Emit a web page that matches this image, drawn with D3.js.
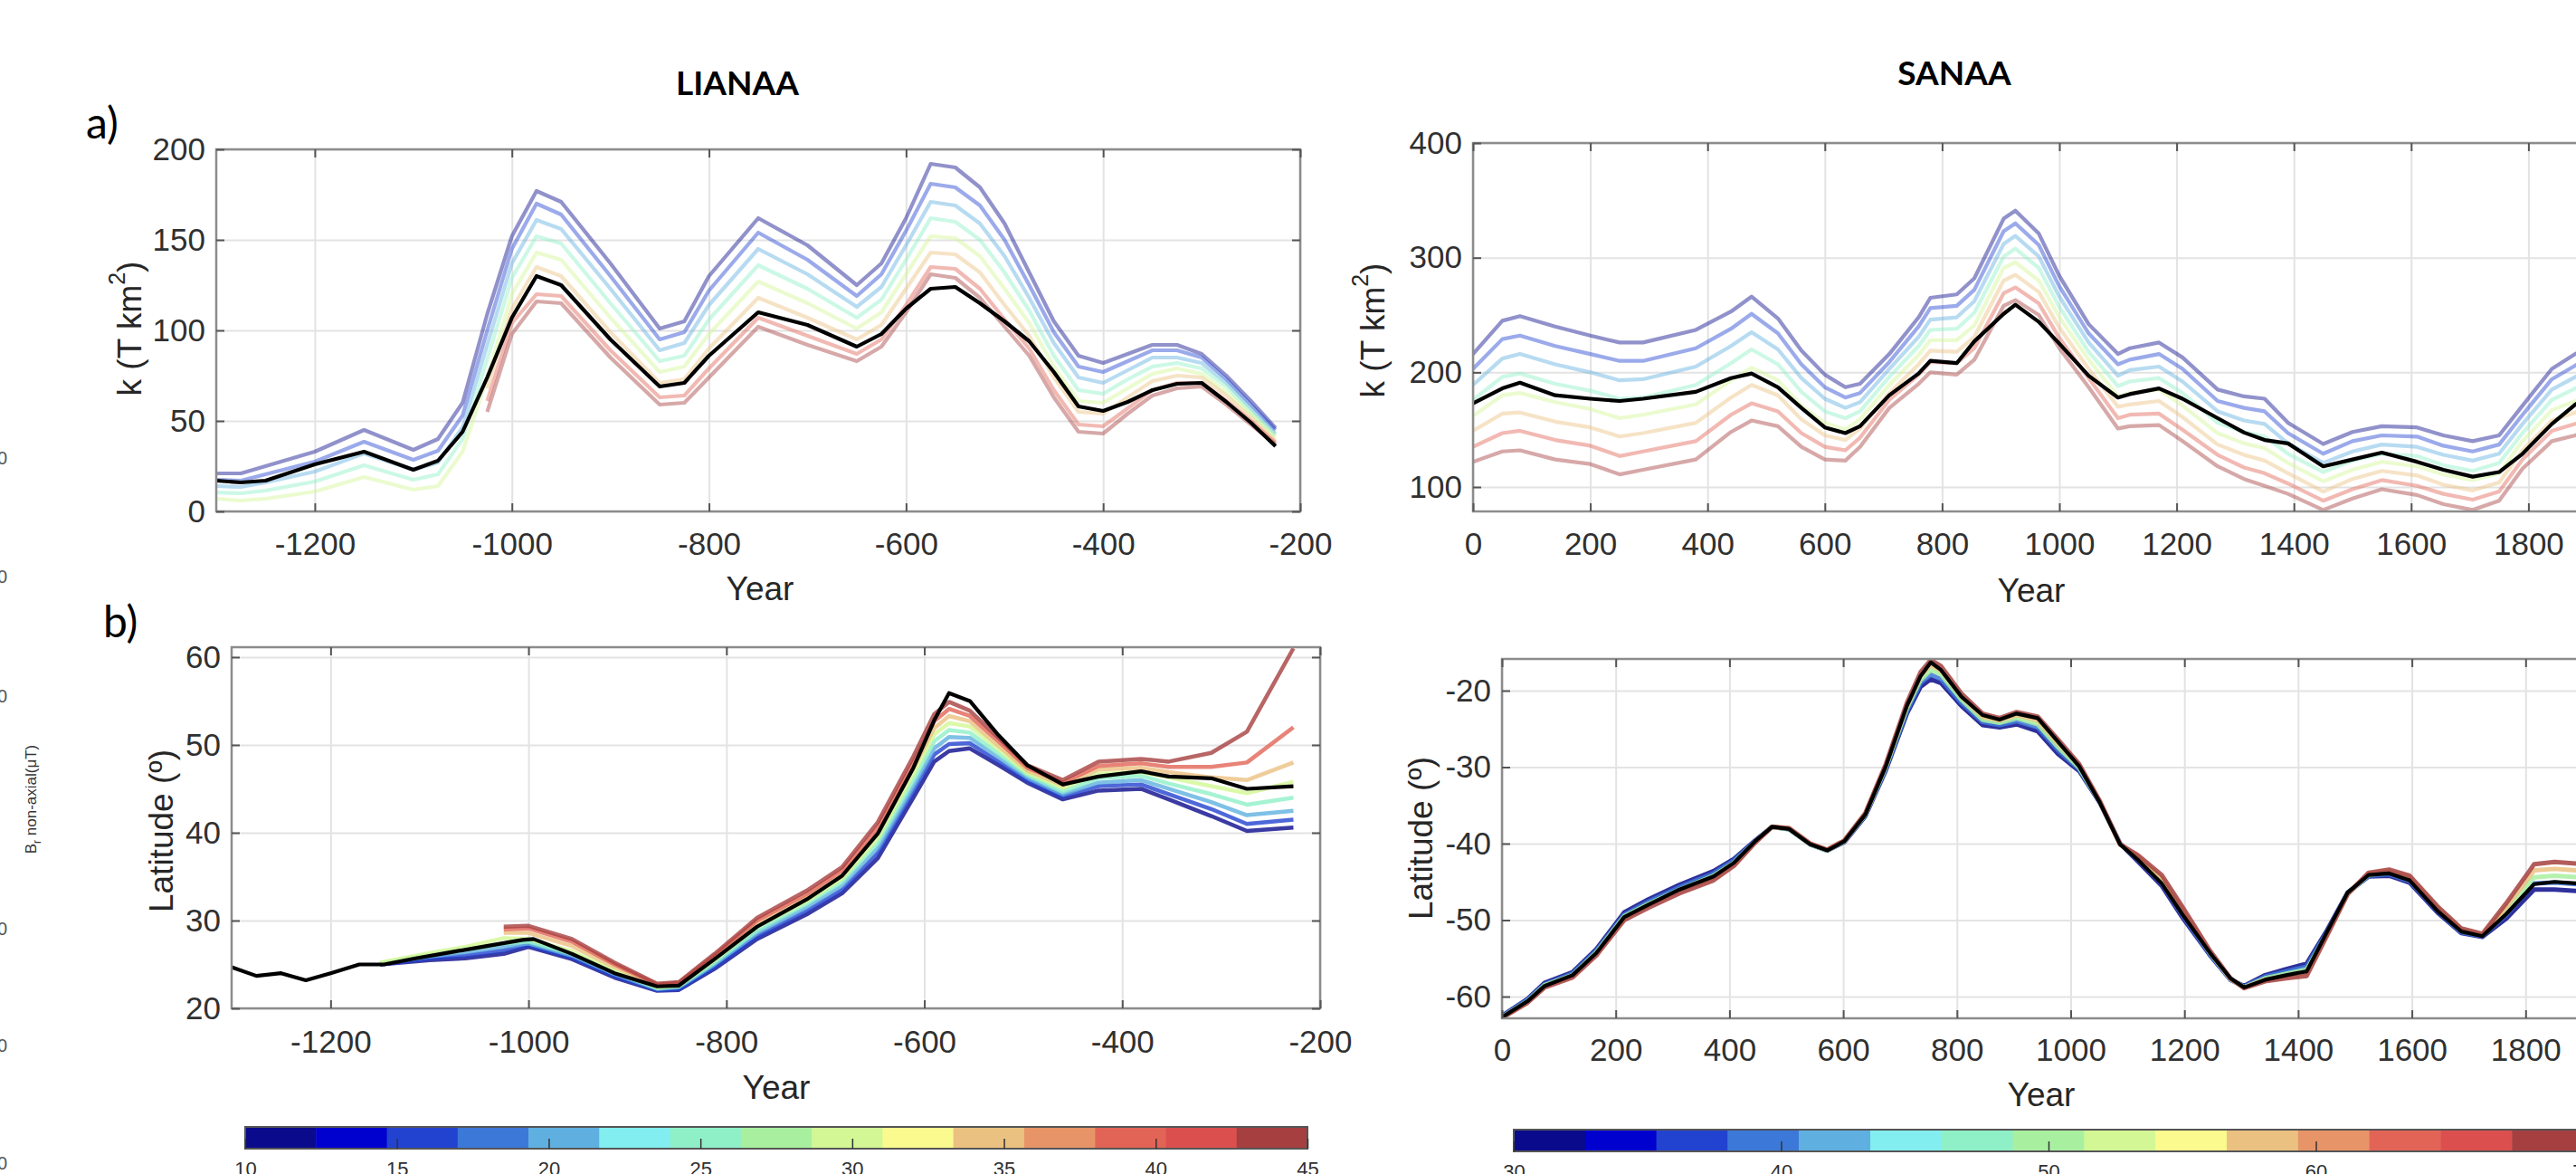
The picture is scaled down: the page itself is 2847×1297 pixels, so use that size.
<!DOCTYPE html>
<html lang="en">
<head>
<meta charset="UTF-8">
<title>LIANAA / SANAA</title>
<style>
  body { margin: 0; background: #fff; overflow: hidden; }
  svg { display: block; }
  .tick text { font-family: "Liberation Sans", Arial, sans-serif; fill: #303030; }
  .axis-label { font-family: "Liberation Sans", Arial, sans-serif; font-size: 37px; fill: #262626; }
  .title { font-family: Lato, "Open Sans", sans-serif; font-weight: 700; font-size: 37px; fill: #000; }
  .tag { font-family: Lato, "Open Sans", sans-serif; font-size: 48px; fill: #000; }
</style>
</head>
<body>
<div id="chart"></div>
<script src="https://d3js.org/d3.v7.min.js"></script>
<script>
// colour levels of the colour bars (blue -> dark red)
const levelColors = ['#0a0a8c','#0000cf','#2242d0','#3c78d8','#5fb0e0','#82eef0','#8ff0c8','#a8f0a0',
                     '#d2f794','#fafa8e','#ebc181','#e79468','#e26456','#dc4f4f','#a63f3f'];
const barTicksLeft = [10, 15, 20, 25, 30, 35, 40, 45];
const barTicksRight = [30, 40, 50, 60, 70];

// LIANAA, k (T km2)
const liKYears = [-1300,-1275,-1250,-1200,-1150,-1100,-1075,-1050,-1025,-1000,-975,-950,-900,-850,-825,-800,
  -750,-700,-650,-625,-600,-575,-550,-525,-500,-475,-450,-425,-400,-375,-350,-325,-300,-275,-250,-225];
const liKBlack = [17,16,17,26,33,23,28,44,74,107,130,125,95,69,71,86,110,103,91,98,112,123,124,115,105,94,
  77,58,55.5,60.5,67,70.5,71,60.5,49,36];
// one row per year, curves ordered blue -> red (levels 1,3,5,...,15)
const liKFan = [
  [21,17.5,14,10.5,7,null,null,null],
  [21,17,13.5,10,6,null,null,null],
  [25,20.5,16,11.5,7,null,null,null],
  [33,27.5,22,16.5,11,null,null,null],
  [45,38.5,32,25.5,19,null,null,null],
  [34,28.5,23,17.5,12,null,null,null],
  [40,33.5,27,20.5,14,null,null,null],
  [60,53,46.5,40,33,null,null,null],
  [109,100,92,84,74,68,61,55],
  [152,145,137,129,120,112,104,98],
  [177,170,161,152,143,135,120,116],
  [171,164,156,148,139,130,119,115],
  [137,130,123,115,107,99,89,85],
  [101,95,89,83,77,71,63,59],
  [105,99,93,86,80,73,64,60],
  [130,122,114,106,98,90,79,74],
  [162,154,145,136,127,118,107,102],
  [147,139,131,123,115,107,97,92],
  [125,119,113,107,101,95,87,83],
  [137,131,124,117,110,103,95,91],
  [162,155,147,139,131,123,114,110],
  [192,181,171,162,152,143,135,131],
  [190,179,169,160,151,142,134,129],
  [179,169,159,150,141,132,123,118],
  [159,150,141,132,123,114,106,102],
  [132,125,118,111,104,97,90,86],
  [105,99,93,86,80,74,67,63],
  [86,80,74,67,61,55,48,44],
  [82,77,71,65,60,54,47,43],
  [87,83,78,73,68,63,57,54],
  [92,89,85,80,76,72,67,64],
  [92,89,85,82,79,75,71,68],
  [87,85,82,79,76,74,71,69],
  [75,73,71,69,66,64,61,59],
  [61,59,57,55,54,52,50,48],
  [46,45,43,42,41,39,38,37]
];

// SANAA, k (T km2)
const saKYears = [0,50,80,140,200,250,290,380,440,475,520,560,600,635,660,710,760,780,825,855,905,925,965,
  1000,1050,1100,1120,1170,1210,1270,1315,1350,1390,1450,1500,1550,1610,1655,1705,1750,1790,1840,1880,1900];
const saKBlack = [173,186,191,180,177,175,177,183,195,199,187,169,152,147,153,180,199,210,208,227,251,259,244,
  225,197,178,181,186,177,160,147.5,141,138,118,124,130,122,115,109,113,129,155,172,178];
const saKFan = [
  [216,203,189,176,162,149,135,122],
  [245,229,212,196,180,164,147,131],
  [249,232,216,199,182,165,149,132],
  [240,223,207,190,174,157,141,124],
  [232,216,200,184,168,152,136,120],
  [226,210,193,177,160,144,127,111],
  [226,210,194,178,163,147,131,115],
  [237,221,205,189,172,156,140,124],
  [253,238,223,208,193,178,163,148],
  [266,251,235,220,204,189,173,158],
  [247,234,220,207,193,180,166,153],
  [219,207,195,183,171,159,147,135],
  [198,187,177,166,156,145,135,124],
  [187,178,169,160,150,141,132,123],
  [190,182,174,166,159,151,143,135],
  [216,209,203,196,189,182,176,169],
  [248,240,231,223,215,207,198,190],
  [265,256,246,237,228,219,209,200],
  [268,258,248,238,228,218,208,198],
  [282,272,262,252,241,231,221,211],
  [334,323,312,301,291,280,269,258],
  [341,330,319,308,296,285,274,263],
  [321,311,301,291,280,270,260,250],
  [284,275,266,257,248,239,230,221],
  [242,234,226,218,211,203,195,187],
  [216,207,197,188,179,170,160,151],
  [221,211,202,192,182,172,163,153],
  [226,216,205,195,185,175,164,154],
  [213,203,192,182,171,161,150,140],
  [185,175,166,156,147,137,128,118],
  [179,169,158,148,138,128,117,107],
  [177,166,155,144,134,123,112,101],
  [156,147,138,129,121,112,103,94],
  [137.5,129,121,113,105,96,88,80],
  [148,140,131,123,115,107,98,90],
  [153,145,137,129,122,114,106,98],
  [152,144,135,127,118,110,101,93],
  [145,136,128,119,111,102,94,85],
  [140,131,123,114,106,97,89,80],
  [145,137,129,121,112,104,96,88],
  [171,163,155,147,140,132,124,116],
  [203,194,185,176,167,158,149,140],
  [216,206,196,186,175,165,155,145],
  [222,212,201,191,181,171,160,150]
];

// LIANAA, latitude
const liLatBlackYears = [-1300,-1275,-1250,-1225,-1200,-1171,-1146,-1114,-1078,-1042,-1006,-995,-956,-913,-870,
  -848,-812,-769,-719,-683,-647,-611,-590,-575,-554,-525,-496,-460,-424,-381,-353,-310,-274,-227];
const liLatBlack = [24.7,23.7,24,23.2,24,25,25,25.7,26.4,27.1,27.8,27.9,26.2,24,22.5,22.6,25.6,29.3,32.4,35.1,
  39.9,47.4,52.8,55.9,55,51.1,47.7,45.5,46.4,47,46.4,46.2,45,45.3];
const liLatYears = [-1150,-1100,-1064,-1025,-1000,-956,-913,-870,-848,-812,-769,-719,-683,-647,-611,-590,-575,
  -554,-525,-496,-460,-424,-381,-353,-310,-274,-227];
const liLatFan = [
  [25.0,25.0,25.1,25.1,25.2,null,null,null],
  [25.5,25.7,25.9,26.1,26.3,null,null,null],
  [25.7,26.0,26.4,26.7,27.0,null,null,null],
  [26.2,26.6,27.0,27.4,28.0,28.6,29.0,29.3],
  [27.0,27.2,27.4,27.6,27.9,28.6,29.1,29.4],
  [25.6,25.8,26.0,26.2,26.5,27.1,27.6,27.9],
  [23.5,23.7,23.9,24.1,24.3,24.7,25.0,25.2],
  [22.0,22.1,22.2,22.3,22.4,22.6,22.7,22.8],
  [22.1,22.2,22.4,22.5,22.6,22.8,22.9,23.0],
  [24.5,24.7,25.0,25.2,25.5,25.7,26.0,26.2],
  [27.9,28.2,28.6,28.9,29.3,29.6,30.0,30.3],
  [30.7,31.1,31.5,31.9,32.2,32.6,33.0,33.4],
  [33.1,33.5,34.0,34.4,34.8,35.2,35.7,36.1],
  [37.1,37.7,38.3,38.9,39.4,40.0,40.6,41.2],
  [44.0,44.7,45.3,46.0,46.7,47.4,48.0,48.7],
  [48.1,48.9,49.6,50.4,51.2,51.9,52.7,53.5],
  [49.3,50.1,50.9,51.7,52.5,53.3,54.1,54.9],
  [49.6,50.2,50.8,51.4,52.1,52.7,53.3,53.9],
  [47.7,48.1,48.6,49.0,49.5,49.9,50.4,50.8],
  [45.7,46.0,46.3,46.6,46.8,47.1,47.4,47.7],
  [43.8,44.1,44.4,44.7,45.1,45.4,45.7,46.0],
  [44.8,45.3,45.7,46.2,46.7,47.2,47.6,48.1],
  [45.0,45.5,46.0,46.5,46.9,47.4,47.9,48.4],
  [43.8,44.4,45.0,45.6,46.3,46.9,47.5,48.1],
  [41.9,42.7,43.5,44.4,45.3,46.3,47.5,49.1],
  [40.2,41.0,42.0,43.2,44.5,46.0,48.0,51.5],
  [40.6,41.5,42.5,44.0,45.8,48.0,52.0,61.0]
];

// SANAA, latitude
const saLatYears = [0,45,75,124,166,215,257,312,372,408,445,475,505,542,572,602,639,675,712,736,754,772,808,845,
  875,905,942,978,1015,1051,1087,1118,1160,1196,1245,1281,1305,1342,1379,1415,1451,1487,1524,1560,1596,1645,
  1687,1724,1766,1815,1851,1890];
const saLatBlack = [-62.7,-60.6,-58.6,-57.2,-54.3,-49.6,-48,-46,-44.3,-42.5,-39.7,-37.8,-38.1,-40.1,-40.9,-39.7,
  -36.2,-29.9,-22,-18.1,-16.3,-17.3,-20.8,-23.2,-23.8,-23,-23.6,-26.7,-29.9,-34.6,-40.1,-42.1,-45.2,-49.2,-54.3,
  -57.6,-58.8,-57.8,-57.2,-56.7,-51.5,-46.4,-44.1,-43.9,-44.8,-48.8,-51.5,-52.1,-49.2,-45.3,-45.0,-45.2];
// curves at levels 1,4,8,11,15
const saLatFan = [
  [-62.5,-62.6,-62.7,-62.7,-62.8],[-60.3,-60.4,-60.6,-60.7,-60.8],[-58.2,-58.4,-58.5,-58.7,-58.8],
  [-56.8,-57.0,-57.2,-57.3,-57.5],[-53.8,-54.0,-54.2,-54.4,-54.6],[-49.0,-49.3,-49.5,-49.8,-50.0],
  [-47.3,-47.6,-47.9,-48.1,-48.4],[-45.4,-45.7,-46.0,-46.2,-46.5],[-43.6,-43.9,-44.2,-44.5,-44.8],
  [-42.0,-42.2,-42.5,-42.7,-42.9],[-39.6,-39.7,-39.8,-39.8,-39.9],[-37.8,-37.8,-37.8,-37.8,-37.8],
  [-38.1,-38.1,-38.1,-38.0,-38.0],[-40.1,-40.1,-40.1,-40.0,-40.0],[-40.9,-40.9,-40.9,-40.8,-40.8],
  [-39.8,-39.7,-39.7,-39.6,-39.6],[-36.4,-36.3,-36.2,-36.1,-36.0],[-30.4,-30.2,-30.0,-29.8,-29.6],
  [-23.0,-22.7,-22.3,-22.0,-21.6],[-19.5,-19.0,-18.6,-18.1,-17.6],[-18.5,-17.9,-17.3,-16.6,-16.0],
  [-19.0,-18.5,-17.9,-17.4,-16.8],[-22.0,-21.6,-21.2,-20.8,-20.4],[-24.5,-24.1,-23.8,-23.4,-23.0],
  [-24.8,-24.5,-24.2,-23.9,-23.6],[-24.4,-24.0,-23.6,-23.2,-22.8],[-25.3,-24.8,-24.4,-23.9,-23.4],
  [-28.3,-27.8,-27.4,-26.9,-26.4],[-30.5,-30.3,-30.1,-29.8,-29.6],[-34.6,-34.6,-34.5,-34.5,-34.4],
  [-40.0,-40.0,-40.1,-40.1,-40.1],[-42.3,-42.1,-41.9,-41.7,-41.5],[-45.5,-45.2,-44.8,-44.5,-44.1],
  [-49.6,-49.3,-48.9,-48.6,-48.2],[-54.6,-54.5,-54.3,-54.2,-54.0],[-57.8,-57.8,-57.7,-57.7,-57.6],
  [-58.6,-58.7,-58.8,-58.8,-58.9],[-57.2,-57.4,-57.6,-57.8,-58.0],[-56.4,-56.7,-57.0,-57.3,-57.6],
  [-55.7,-56.1,-56.5,-56.9,-57.3],[-51.3,-51.5,-51.7,-51.8,-52.0],[-46.4,-46.5,-46.5,-46.6,-46.6],
  [-44.3,-44.2,-44.1,-43.9,-43.8],[-44.2,-44.0,-43.8,-43.6,-43.4],[-45.1,-44.9,-44.7,-44.4,-44.2],
  [-49.0,-48.8,-48.6,-48.4,-48.2],[-51.7,-51.6,-51.4,-51.3,-51.1],[-52.2,-52.1,-52.0,-51.9,-51.8],
  [-49.8,-49.3,-48.8,-48.3,-47.8],[-46.0,-45.2,-44.4,-43.5,-42.7],[-46.0,-45.1,-44.2,-43.3,-42.4],
  [-46.2,-45.3,-44.4,-43.5,-42.6]
];

const width = 2847, height = 1297;
const svg = d3.select('#chart').append('svg')
  .attr('width', width).attr('height', height)
  .style('background', '#fff');

function drawPanel(p) {
  const x = d3.scaleLinear().domain(p.xDomain).range([p.left, p.right]);
  const y = d3.scaleLinear().domain(p.yDomain).range([p.bottom, p.top]);
  const w = p.right - p.left, h = p.bottom - p.top;

  svg.append('clipPath').attr('id', 'clip-' + p.id)
    .append('rect').attr('x', p.left).attr('y', p.top).attr('width', w).attr('height', h);

  const g = svg.append('g');

  // grid
  g.append('g').attr('transform', `translate(0,${p.bottom})`)
    .call(d3.axisBottom(x).tickValues(p.xTicks).tickSize(-h).tickFormat(''))
    .call(s => s.select('.domain').remove())
    .selectAll('line').attr('stroke', '#e3e3e3').attr('stroke-width', 2);
  g.append('g').attr('transform', `translate(${p.left},0)`)
    .call(d3.axisLeft(y).tickValues(p.yTicks).tickSize(-w).tickFormat(''))
    .call(s => s.select('.domain').remove())
    .selectAll('line').attr('stroke', '#e3e3e3').attr('stroke-width', 2);

  // curves
  const line = d3.line().defined(d => d[1] != null).x(d => x(d[0])).y(d => y(d[1]));
  const curves = g.append('g').attr('clip-path', `url(#clip-${p.id})`);
  const series = d3.transpose(p.fan);
  series.forEach((vals, j) => {
    curves.append('path')
      .datum(p.years.map((yr, i) => [yr, vals[i]]))
      .attr('d', line)
      .attr('fill', 'none')
      .attr('stroke', levelColors[p.levels[j]])
      .attr('stroke-width', p.fanWidth)
      .attr('stroke-opacity', p.fanOpacity)
      .attr('stroke-linejoin', 'round');
  });
  curves.append('path')
    .datum(p.blackYears.map((yr, i) => [yr, p.black[i]]))
    .attr('d', line)
    .attr('fill', 'none')
    .attr('stroke', '#000')
    .attr('stroke-width', 4.2)
    .attr('stroke-linejoin', 'round');

  // box and inward ticks
  g.append('rect').attr('x', p.left).attr('y', p.top).attr('width', w).attr('height', h)
    .attr('fill', 'none').attr('stroke', '#8c8c8c').attr('stroke-width', 2.5);

  const styleAxis = s => {
    s.select('.domain').remove();
    s.selectAll('line').attr('stroke', '#555').attr('stroke-width', 2);
    s.selectAll('text').style('font-size', '35px');
  };
  g.append('g').attr('transform', `translate(0,${p.bottom})`)
    .call(d3.axisBottom(x).tickValues(p.xTicks).tickSize(-9).tickPadding(p.xPad).tickFormat(d => d))
    .call(styleAxis);
  g.append('g').attr('transform', `translate(0,${p.top})`)
    .call(d3.axisTop(x).tickValues(p.xTicks).tickSize(-9).tickFormat(''))
    .call(styleAxis);
  g.append('g').attr('transform', `translate(${p.left},0)`)
    .call(d3.axisLeft(y).tickValues(p.yTicks).tickSize(-9).tickPadding(12).tickFormat(d => d))
    .call(styleAxis);
  g.append('g').attr('transform', `translate(${p.right},0)`)
    .call(d3.axisRight(y).tickValues(p.yTicks).tickSize(-9).tickFormat(''))
    .call(styleAxis);

  // axis titles
  svg.append('text').attr('class', 'axis-label')
    .attr('x', p.xLabel[0]).attr('y', p.xLabel[1])
    .attr('text-anchor', 'middle').attr('dominant-baseline', 'central')
    .text('Year');
  const yl = svg.append('text').attr('class', 'axis-label')
    .attr('text-anchor', 'middle').attr('dominant-baseline', 'central')
    .attr('transform', `translate(${p.yLabel[0]},${p.yLabel[1]}) rotate(-90)`);
  if (p.kLabel) {
    yl.append('tspan').text('k (T km');
    yl.append('tspan').text('2').attr('font-size', '25px').attr('dy', -14);
    yl.append('tspan').text(')').attr('dy', 14);
  } else {
    yl.text('Latitude (º)');
  }
}

drawPanel({
  id: 'liK', left: 239, right: 1437, top: 165, bottom: 565,
  xDomain: [-1300, -200], yDomain: [0, 200],
  xTicks: d3.range(-1200, -199, 200), yTicks: [0, 50, 100, 150, 200], xPad: 23,
  years: liKYears, fan: liKFan, levels: [0, 2, 4, 6, 8, 10, 12, 14],
  blackYears: liKYears, black: liKBlack, fanWidth: 4.2, fanOpacity: 0.45,
  xLabel: [840, 650], yLabel: [143, 363], kLabel: true
});
drawPanel({
  id: 'saK', left: 1628, right: 2924, top: 158, bottom: 565,
  xDomain: [0, 2000], yDomain: [78.7, 400],
  xTicks: d3.range(0, 2001, 200), yTicks: [100, 200, 300, 400], xPad: 23,
  years: saKYears, fan: saKFan, levels: [0, 2, 4, 6, 8, 10, 12, 14],
  blackYears: saKYears, black: saKBlack, fanWidth: 4.2, fanOpacity: 0.45,
  xLabel: [2245, 652], yLabel: [1517, 365], kLabel: true
});
drawPanel({
  id: 'liLat', left: 256, right: 1459, top: 715, bottom: 1114,
  xDomain: [-1300, -200], yDomain: [20, 61.13],
  xTicks: d3.range(-1200, -199, 200), yTicks: [20, 30, 40, 50, 60], xPad: 24,
  years: liLatYears, fan: liLatFan, levels: [0, 2, 4, 6, 8, 10, 12, 14],
  blackYears: liLatBlackYears, black: liLatBlack, fanWidth: 4.5, fanOpacity: 0.8,
  xLabel: [858, 1201], yLabel: [178, 918], kLabel: false
});
drawPanel({
  id: 'saLat', left: 1660, right: 2917, top: 728, bottom: 1125,
  xDomain: [0, 2000], yDomain: [-62.84, -15.86],
  xTicks: d3.range(0, 2001, 200), yTicks: [-60, -50, -40, -30, -20], xPad: 22,
  years: saLatYears, fan: saLatFan, levels: [0, 3, 7, 10, 14],
  blackYears: saLatYears, black: saLatBlack, fanWidth: 5, fanOpacity: 0.85,
  xLabel: [2256, 1209], yLabel: [1570, 926], kLabel: false
});

// colour bars
function drawColorbar(domain, x0, x1, y0, ticks) {
  const x = d3.scaleLinear().domain(domain).range([x0, x1]);
  const n = levelColors.length;
  const step = (domain[1] - domain[0]) / n;
  const g = svg.append('g');
  g.selectAll('rect.block').data(levelColors).join('rect')
    .attr('class', 'block')
    .attr('x', (c, i) => x(domain[0] + i * step))
    .attr('width', (c, i) => x(domain[0] + (i + 1) * step) - x(domain[0] + i * step) + 0.5)
    .attr('y', y0).attr('height', 24)
    .attr('fill', c => c);
  g.append('rect').attr('x', x0).attr('y', y0).attr('width', x1 - x0).attr('height', 24)
    .attr('fill', 'none').attr('stroke', '#555').attr('stroke-width', 2);
  g.append('g').attr('transform', `translate(0,${y0 + 24})`)
    .call(d3.axisBottom(x).tickValues(ticks).tickSize(-11).tickPadding(14).tickFormat(d => d))
    .call(s => {
      s.select('.domain').remove();
      s.selectAll('line').attr('stroke', '#333').attr('stroke-width', 1.5);
      s.selectAll('text').style('font-size', '22px');
    });
}
drawColorbar([10, 45], 271, 1445, 1245, barTicksLeft);
drawColorbar([30, 70], 1673, 2855, 1248, barTicksRight);

// titles and panel tags
svg.append('text').attr('class', 'title').attr('x', 815).attr('y', 105).attr('text-anchor', 'middle').text('LIANAA');
svg.append('text').attr('class', 'title').attr('x', 2160).attr('y', 94).attr('text-anchor', 'middle').text('SANAA');
svg.append('text').attr('class', 'tag').attr('x', 95).attr('y', 153).text('a)');
svg.append('text').attr('class', 'tag').attr('x', 114).attr('y', 704).text('b)');

// cropped neighbour figure at the left edge
const br = svg.append('text')
  .attr('transform', 'translate(40,883) rotate(-90)')
  .attr('text-anchor', 'middle')
  .style('font-family', '"Liberation Sans", Arial, sans-serif')
  .style('font-size', '17px').style('fill', '#333');
br.append('tspan').text('B');
br.append('tspan').text('r').attr('font-size', '12px').attr('dy', 5);
br.append('tspan').text(' non-axial(μT)').attr('dy', -5);
[506, 637, 769, 1026, 1155, 1285].forEach(v => {
  svg.append('text').attr('x', 8).attr('y', v).attr('text-anchor', 'end')
    .attr('dominant-baseline', 'central')
    .style('font-family', '"Liberation Sans", Arial, sans-serif')
    .style('font-size', '20px').style('fill', '#555').text('0');
});
</script>
</body>
</html>
